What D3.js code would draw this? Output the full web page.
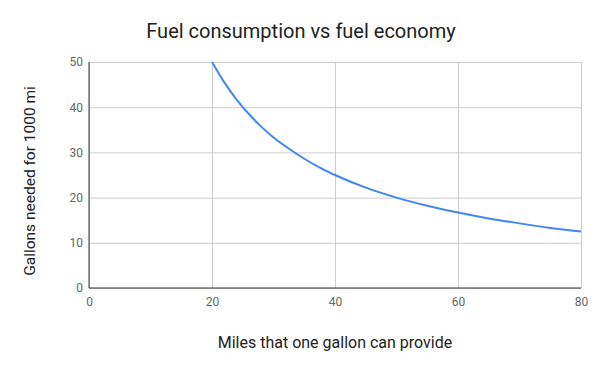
<!DOCTYPE html>
<html>
<head>
<meta charset="utf-8">
<script src="https://cdn.jsdelivr.net/npm/d3@7"></script>
<style>
  body { margin: 0; background: #fff; }
  text { font-family: Roboto, sans-serif; }
</style>
</head>
<body>
<svg id="chart" width="600" height="371"></svg>
<script>
// miles per gallon vs gallons needed for 1000 mi
var mpg     = [20, 22, 24, 26, 28, 30, 32, 35, 38, 40, 45, 50, 55, 60, 65, 70, 75, 80];
var gallons = [50, 45.5, 41.7, 38.5, 35.7, 33.3, 31.3, 28.6, 26.3, 25, 22.2, 20, 18.2, 16.7, 15.4, 14.3, 13.3, 12.5];
var xTicks = [0, 20, 40, 60, 80];
var yTicks = [0, 10, 20, 30, 40, 50];

var dim = { left: 89, right: 581, top: 62, bottom: 288 };
var svg = d3.select("#chart");

var xScale = d3.scaleLinear().domain([0, 80]).range([dim.left, dim.right]);
var yScale = d3.scaleLinear().domain([0, 50]).range([dim.bottom, dim.top]);

// gridlines
svg.append("g")
   .attr("transform", "translate(0," + dim.bottom + ")")
   .call(d3.axisBottom(xScale).tickValues(xTicks).tickSize(-(dim.bottom - dim.top)).tickFormat(""))
   .call(function(g) { g.select(".domain").remove(); })
   .selectAll("line").attr("stroke", "#cccccc");
svg.append("g")
   .attr("transform", "translate(" + dim.left + ",0)")
   .call(d3.axisLeft(yScale).tickValues(yTicks).tickSize(-(dim.right - dim.left)).tickFormat(""))
   .call(function(g) { g.select(".domain").remove(); })
   .selectAll("line").attr("stroke", "#cccccc");

// tick labels
var xAxis = svg.append("g")
   .attr("transform", "translate(0," + dim.bottom + ")")
   .call(d3.axisBottom(xScale).tickValues(xTicks).tickSize(0).tickPadding(9));
xAxis.select(".domain").remove();
xAxis.selectAll("text").attr("fill", "#666").style("font-size", "12px").style("font-family", "Roboto");

var yAxis = svg.append("g")
   .attr("transform", "translate(" + dim.left + ",0)")
   .call(d3.axisLeft(yScale).tickValues(yTicks).tickSize(0).tickPadding(6));
yAxis.select(".domain").remove();
yAxis.selectAll("text").attr("fill", "#666").style("font-size", "12px").style("font-family", "Roboto");

// axis lines
svg.append("line")
   .attr("x1", dim.left).attr("x2", dim.left)
   .attr("y1", dim.top).attr("y2", dim.bottom)
   .attr("stroke", "#333").attr("stroke-width", 1);
svg.append("line")
   .attr("x1", dim.left).attr("x2", dim.right)
   .attr("y1", dim.bottom).attr("y2", dim.bottom)
   .attr("stroke", "#333").attr("stroke-width", 1);

// curve
var line = d3.line()
   .x(function(d, i) { return xScale(mpg[i]); })
   .y(function(d) { return yScale(d); })
   .curve(d3.curveMonotoneX);
svg.append("path")
   .datum(gallons)
   .attr("d", line)
   .attr("fill", "none")
   .attr("stroke", "#4285f4")
   .attr("stroke-width", 2);

// titles
svg.append("text")
   .attr("x", 301).attr("y", 38)
   .attr("text-anchor", "middle")
   .attr("fill", "#222")
   .style("font-size", "20px")
   .text("Fuel consumption vs fuel economy");
svg.append("text")
   .attr("x", 335).attr("y", 348)
   .attr("text-anchor", "middle")
   .attr("fill", "#222")
   .style("font-size", "16px")
   .text("Miles that one gallon can provide");
svg.append("text")
   .attr("transform", "translate(34.5,181) rotate(-90)")
   .attr("text-anchor", "middle")
   .attr("fill", "#222")
   .style("font-size", "15.5px")
   .text("Gallons needed for 1000 mi");
</script>
</body>
</html>
